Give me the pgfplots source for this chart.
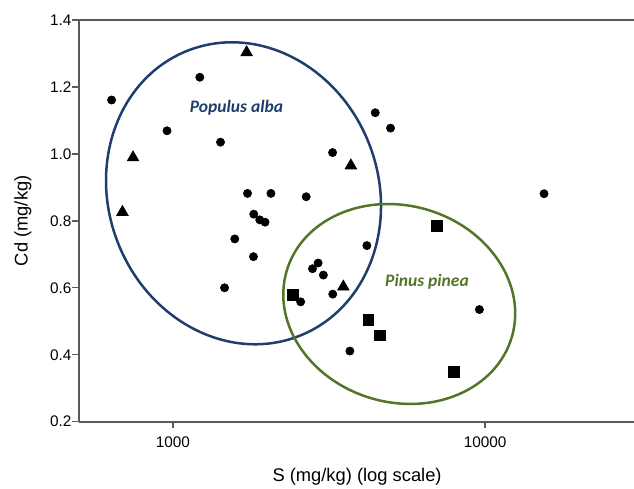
\documentclass[border=0pt]{standalone}
\usepackage{pgfplots}
\pgfplotsset{compat=1.18}
\usepackage{fontspec}
\setmainfont{Liberation Sans}
\newfontfamily\calib{Carlito}
\definecolor{popblue}{RGB}{31,62,110}
\definecolor{pingreen}{RGB}{84,116,40}
\definecolor{axgray}{RGB}{90,90,90}

\begin{document}
\begin{tikzpicture}
\begin{axis}[
    scale only axis,
    width=333pt, height=241pt,
    xmode=log,
    xmin=500, xmax=30000,
    ymin=0.2, ymax=1.4,
    axis x line*=box, axis y line*=left,
    xtick pos=bottom, ytick pos=left,
    xtick={1000,10000}, xticklabels={1000,10000},
    xminorticks=false,
    ytick={0.2,0.4,...,1.4},
    yticklabel style={/pgf/number format/fixed, /pgf/number format/fixed zerofill, /pgf/number format/precision=1, xshift=3pt},
    xticklabel style={yshift=-1.5pt},
    /pgf/number format/assume math mode=true,
    tick align=outside,
    major tick length=4pt,
    tick style={axgray, line width=0.8pt},
    axis line style={axgray, line width=1pt},
    tick label style={font=\fontsize{9.2}{10}\selectfont, black},
    label style={font=\fontsize{11}{13}\selectfont},
    xlabel={S (mg/kg) (log scale)},
    ylabel={Cd (mg/kg)},
    xlabel style={at={(axis description cs:0.501,-0.137)}, anchor=center},
    ylabel style={at={(axis description cs:-0.101,0.5)}, anchor=center},
    clip=false,
]
% ellipses marking the two groups
\draw[popblue, line width=1.5pt] (rel axis cs:0.2964,0.5686) ellipse [x radius=81pt, y radius=91.9pt, rotate=21];
\draw[pingreen, line width=1.5pt] (rel axis cs:0.577,0.293) ellipse [x radius=70.4pt, y radius=59pt, rotate=-16.3];
\node[popblue, font=\calib\bfseries\itshape\fontsize{10.5}{12}\selectfont] at (rel axis cs:0.2838,0.7823) {Populus alba};
\node[pingreen, font=\calib\bfseries\itshape\fontsize{10.5}{12}\selectfont] at (rel axis cs:0.627,0.3485) {Pinus pinea};

% circles
\addplot[only marks, mark=*, mark size=2.45pt, black] coordinates {
    (636,1.161) (1219,1.229) (957,1.069) (1420,1.035) (1733,0.882)
    (2060,0.882) (2672,0.872) (1815,0.820) (1897,0.803) (1973,0.796)
    (1578,0.746) (4447,1.123) (4978,1.077) (3246,1.004) (15450,0.881)
    (4180,0.726) (1811,0.693) (1463,0.600) (2565,0.558) (2799,0.657)
    (2918,0.674) (3033,0.638) (3251,0.581) (3688,0.411) (9591,0.535)
};
% triangles
\addplot[only marks, mark=triangle*, mark size=4pt, black] coordinates {
    (1722,1.303) (745,0.989) (689,0.826) (3716,0.965) (3515,0.603)
};
% squares
\addplot[only marks, mark=square*, mark size=3.2pt, black] coordinates {
    (6997,0.786) (2426,0.579) (4226,0.505) (4604,0.458) (7960,0.348)
};
\coordinate (sw) at (rel axis cs:0,0);
\end{axis}
\pgfresetboundingbox
\path ([shift={(-47.4pt,-39.8pt)}]sw) rectangle ([shift={(333pt,253pt)}]sw);
\end{tikzpicture}
\end{document}
